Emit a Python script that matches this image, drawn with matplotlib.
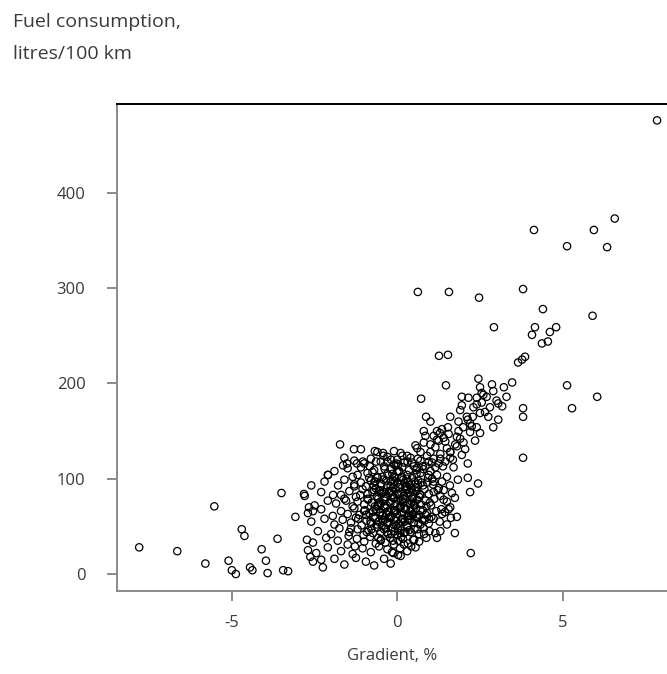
"""Fuel consumption vs road gradient scatter."""

import matplotlib

matplotlib.use("Agg")
import matplotlib.pyplot as plt
import numpy as np

# ---- data ----
# isolated points away from the main cloud
outer_gradient = [
    7.85, 6.57, 5.94, 5.13, 6.34, 4.13, 0.62, 1.56, 2.47, 3.80, 4.40, 2.92, 5.90,
    4.16, 4.07, 4.37, 4.61, 4.55, 4.80, 3.77, 3.86, 3.65, 1.26, 1.53, 1.47, 5.13,
    6.04, 5.28, 3.80, 3.80, 3.80, 2.22, 0.72, 0.87, 1.95, 1.95,
    -7.80, -6.65, -5.80, -5.53, -4.70, -4.62, -5.10, -5.00, -4.88, -4.45, -4.38,
    -4.10, -3.97, -3.92, -3.62, -3.45, -3.30, -3.50, -2.82, -3.08, -2.67, -2.55,
    -2.73, -2.70, -2.63, -2.55, -2.25,
]
outer_fuel = [
    476, 373, 361, 344, 343, 361, 296, 296, 290, 299, 278, 259, 271,
    259, 251, 242, 254, 244, 259, 225, 228, 222, 229, 230, 198, 198,
    186, 174, 174, 165, 122, 22, 184, 165, 186, 177,
    28, 24, 11, 71, 47, 40, 14, 4, 0, 7, 4,
    26, 14, 1, 37, 4, 3, 85, 84, 60, 70, 66,
    36, 25, 18, 13, 7,
]

# main cloud around zero gradient
cloud_gradient = [
    # 130-145
    -1.73, -1.31, -0.68, -0.43, -1.1, -0.6, -0.1, 0.1, 0.3, 0.6, 0.8, 1.0, 1.2, 1.4,
    # 112-128
    -2.1, -1.64, -1.52, -1.22, -1.04, -1.6, -1.3, -1.0, -0.8, -0.5, -0.3, -0.1, 0.0,
    0.2, 0.4, 0.5, 0.7, 0.9, 1.1, 1.3, 1.6, 1.8,
    # 100-115
    -2.09, -1.9, -1.5, -1.2, -1.1, -0.9, -0.7, -0.6, -0.4, -0.3, -0.2, -0.1, 0.05,
    0.15, 0.3, 0.35, 0.45, 0.6, 0.7, 0.85, 1.0, 1.15, 1.25, 1.45, 1.6,
    # 90-100
    -2.6, -2.2, -1.79, -1.6, -1.3, -1.1, -0.95, -0.8, -0.65, -0.5, -0.42, -0.3, -0.2,
    -0.12, 0.0, 0.08, 0.18, 0.25, 0.33, 0.42, 0.55, 0.63, 0.78, 0.9, 1.05, 1.2,
    1.35, 1.5,
    # 80-90
    -2.8, -2.3, -1.94, -1.7, -1.45, -1.25, -1.05, -0.9, -0.75, -0.62, -0.55, -0.45,
    -0.35, -0.25, -0.15, -0.05, 0.03, 0.12, 0.2, 0.28, 0.38, 0.47, 0.58, 0.7, 0.82,
    0.95, 1.1, 1.25, 1.4, 1.65,
    # 70-80
    -2.5, -2.1, -1.85, -1.6, -1.35, -1.2, -1.0, -0.88, -0.77, -0.68, -0.58, -0.5,
    -0.4, -0.32, -0.22, -0.13, -0.06, 0.02, 0.1, 0.17, 0.26, 0.34, 0.43, 0.52, 0.6,
    0.72, 0.85, 0.98, 1.12, 1.3, 1.5,
    # 60-70
    -2.7, -2.3, -1.95, -1.7, -1.5, -1.3, -1.15, -0.98, -0.85, -0.72, -0.63, -0.52,
    -0.44, -0.36, -0.27, -0.18, -0.09, -0.01, 0.07, 0.15, 0.23, 0.31, 0.4, 0.48,
    0.57, 0.66, 0.77, 0.9, 1.03, 1.18, 1.35, 1.55,
    # 50-60
    -2.6, -2.2, -1.9, -1.65, -1.4, -1.25, -1.08, -0.93, -0.8, -0.67, -0.57, -0.47,
    -0.38, -0.3, -0.2, -0.11, -0.03, 0.05, 0.14, 0.22, 0.3, 0.39, 0.5, 0.6, 0.7,
    0.82, 0.95, 1.1, 1.28,
    # 40-50
    -2.4, -2.0, -1.75, -1.45, -1.2, -1.02, -0.87, -0.74, -0.6, -0.5, -0.4, -0.28,
    -0.17, -0.08, 0.01, 0.1, 0.2, 0.3, 0.4, 0.52, 0.65, 0.8, 0.97, 1.15,
    # 30-40
    -2.55, -2.15, -1.8, -1.5, -1.22, -1.0, -0.82, -0.65, -0.5, -0.36, -0.22, -0.1,
    0.03, 0.17, 0.32, 0.48, 0.66, 0.88,
    # 20-30
    -2.45, -2.1, -1.7, -1.35, -1.05, -0.8, -0.55, -0.3, -0.12, 0.08, 0.3, 0.55,
    # 0-20
    -2.3, -1.9, -1.6, -1.25, -0.95, -0.7, -0.4, -0.2, 0.02, 0.1, -0.16,
    # extra density in the core
    -0.7, -0.55, -0.45, -0.33, -0.2, -0.1, 0.0, 0.1, 0.22, 0.35, 0.45, 0.58, 0.7,
    -0.62, -0.48, -0.37, -0.24, -0.14, -0.04, 0.06, 0.16, 0.27, 0.4, 0.53, 0.66,
    -0.75, -0.52, -0.29, -0.07, 0.13, 0.37, 0.6,
    -0.58, -0.41, -0.26, -0.09, 0.04, 0.19, 0.32, 0.47, 0.62, -0.66, -0.35, -0.02,
    0.24, 0.5, 0.75, -0.5, -0.18, 0.12, 0.42,
    -0.95, -0.85, -0.78, -0.71, -0.64, -0.57, -0.49, -0.43, -0.38, -0.31, -0.25,
    -0.19, -0.13, -0.08, -0.03, 0.03, 0.09, 0.14, 0.2, 0.26, 0.31, 0.36, 0.44, 0.51,
    0.57, 0.64, 0.73, 0.81, 0.88, 0.96,
    -0.9, -0.81, -0.69, -0.6, -0.53, -0.46, -0.39, -0.34, -0.28, -0.21, -0.16, -0.11,
    -0.05, 0.01, 0.07, 0.11, 0.18, 0.24, 0.29, 0.34, 0.41, 0.49, 0.55, 0.61, 0.68,
    0.76, 0.86, 0.93, 1.02, 1.08,
    -1.4, -1.3, -1.18, -1.12, -1.0, -0.92, -0.83, -0.73, -0.6, -0.42, -0.3, -0.15,
    0.0, 0.15, 0.28, 0.45, 0.62, 0.79, 0.95, 1.1, 1.22, 1.33, -1.55, -1.47, -1.35,
    -1.28,
]
cloud_fuel = [
    136, 131, 129, 127, 131, 128, 129, 127, 124, 132, 138, 136, 141, 143,
    104, 114, 116, 116, 118, 122, 119, 116, 121, 118, 123, 115, 120,
    117, 122, 113, 119, 124, 121, 126, 128, 134,
    104, 108, 111, 104, 112, 106, 109, 101, 113, 105, 110, 102, 107,
    112, 104, 109, 101, 111, 106, 113, 108, 112, 116, 118, 122,
    93, 97, 93, 99, 94, 96, 92, 98, 90, 95, 99, 93, 97,
    91, 96, 94, 99, 92, 97, 90, 95, 98, 93, 96, 100, 104,
    97, 102,
    82, 86, 83, 83, 87, 81, 89, 84, 86, 82, 88, 85,
    81, 87, 83, 89, 84, 86, 82, 88, 85, 81, 87, 83, 89,
    84, 86, 90, 88, 85,
    72, 77, 74, 79, 71, 76, 73, 78, 75, 71, 79, 74,
    77, 72, 76, 80, 73, 78, 71, 75, 79, 74, 76, 72, 78,
    73, 77, 75, 79, 82, 76,
    64, 68, 61, 66, 63, 69, 62, 67, 64, 60, 68, 65,
    62, 69, 66, 61, 67, 63, 70, 64, 68, 61, 66, 63,
    69, 62, 67, 64, 60, 66, 63, 68,
    55, 58, 52, 57, 54, 59, 51, 56, 53, 58, 55, 51,
    57, 54, 59, 52, 56, 53, 58, 55, 51, 57, 54, 59, 52,
    56, 53, 58, 55,
    45, 42, 48, 44, 47, 41, 46, 43, 49, 44, 47, 42,
    48, 45, 41, 46, 43, 49, 44, 47, 42, 48, 45, 43,
    33, 38, 35, 31, 37, 34, 39, 32, 36, 33, 38, 31,
    35, 37, 32, 36, 34, 38,
    22, 28, 24, 21, 27, 23, 29, 26, 22, 27, 24, 28,
    15, 16, 10, 17, 13, 9, 16, 11, 20, 19, 23,
    88, 75, 102, 63, 92, 57, 83, 70, 96, 61, 79, 105, 67,
    52, 94, 71, 85, 99, 66, 108, 58, 89, 74, 97, 81,
    107, 64, 54, 101, 77, 93, 60,
    73, 86, 59, 80, 91, 69, 84, 62, 94, 97, 48, 116,
    44, 74, 57, 35, 42, 39, 29,
    62, 101, 47, 93, 118, 38, 84, 56, 110, 44, 66,
    120, 35, 97, 51, 115, 43, 102, 31, 68, 118, 46, 88, 36,
    109, 53, 96, 42, 71, 58,
    79, 55, 97, 71, 87, 61, 79, 98, 53, 74, 87, 64,
    114, 48, 91, 55, 79, 44, 92, 57, 61, 72, 91, 47, 84,
    113, 62, 101, 72, 94,
    48, 92, 58, 83, 66, 44, 113, 66, 102, 124, 118, 105,
    108, 124, 100, 117, 121, 110, 104, 97, 88, 68, 77, 40, 102,
    29,
]

# rising band to the right of the cloud
band_gradient = [
    1.0, 1.15, 1.3, 1.45, 1.6, 1.75, 1.9, 2.05, 2.2, 2.35, 1.1, 1.35, 1.55, 1.85,
    2.0, 2.3, 2.55, 2.65, 0.95, 1.7, 2.5, 2.86, 3.22, 3.47, 2.7, 2.9, 3.05, 3.17,
    2.8, 2.5, 2.28, 2.2, 2.4, 2.5, 2.9, 3.05, 1.53, 1.29, 1.8, 2.13, 1.99, 2.13,
    1.74, 1.62, 1.44, 1.74, 2.2, 2.44, 2.13, 1.83, 1.59, 1.3, 1.5, 1.2, 1.6, 1.4,
    1.8, 2.55, 2.4,
    0.55, 0.7, 0.85, 1.05, 1.2, 1.38, 1.5, 1.68, 1.85, 1.95, 2.1, 2.25, 2.4, 0.8,
    1.0, 1.25, 1.6, 1.9, 2.15, 2.6, 2.75, 3.0, 3.3, 2.45,
]
band_fuel = [
    128, 133, 121, 139, 128, 136, 142, 131, 149, 140, 145, 152, 147, 160,
    138, 175, 180, 170, 118, 112, 196, 199, 196, 201, 186, 192, 179, 176,
    175, 169, 165, 158, 154, 148, 154, 162, 154, 148, 144, 162, 154, 116,
    43, 59, 65, 80, 86, 95, 101, 99, 93, 45, 52, 38, 70, 78,
    60, 190, 185,
    135, 128, 145, 117, 150, 113, 132, 120, 150, 125, 165, 155, 178, 150,
    160, 140, 165, 172, 185, 188, 165, 182, 186, 205,
]

gradient = np.array(outer_gradient + cloud_gradient + band_gradient)
fuel = np.array(outer_fuel + cloud_fuel + band_fuel)

TEXT = "#3a3a3a"
GREY = "#8a8a8a"

plt.rcParams["font.family"] = ["Open Sans", "DejaVu Sans"]
plt.rcParams["axes.unicode_minus"] = False

fig = plt.figure(figsize=(6.67, 6.74), dpi=100)
W, H = 667, 674
ax = fig.add_axes([116.7 / W, 1 - 591 / H, 1 - 116.7 / W, (591 - 104) / H])

ax.scatter(gradient, fuel, s=28, facecolors="none", edgecolors="black", linewidths=0.9)

ax.set_xlim(-8.48, 8.15)
ax.set_ylim(-17.8, 493.2)
ax.set_xticks([-5, 0, 5])
ax.set_yticks([0, 100, 200, 300, 400])

for side in ("left", "bottom"):
    ax.spines[side].set_color(GREY)
    ax.spines[side].set_linewidth(1.4)
ax.spines["top"].set_color("black")
ax.spines["top"].set_linewidth(1.4)
ax.spines["right"].set_visible(False)

ax.tick_params(axis="both", length=7.5, width=1.4, color=GREY, labelcolor=TEXT, labelsize=12)
ax.tick_params(axis="y", pad=15)
ax.tick_params(axis="x", pad=10)

ax.set_xlabel("Gradient, %", fontsize=12, color=TEXT, labelpad=12)

fig.text(13 / W, 1 - 22 / H, "Fuel consumption,", fontsize=14, color=TEXT, va="center", ha="left")
fig.text(13 / W, 1 - 54 / H, "litres/100 km", fontsize=14, color=TEXT, va="center", ha="left")

fig.savefig("out.png", dpi=100)
